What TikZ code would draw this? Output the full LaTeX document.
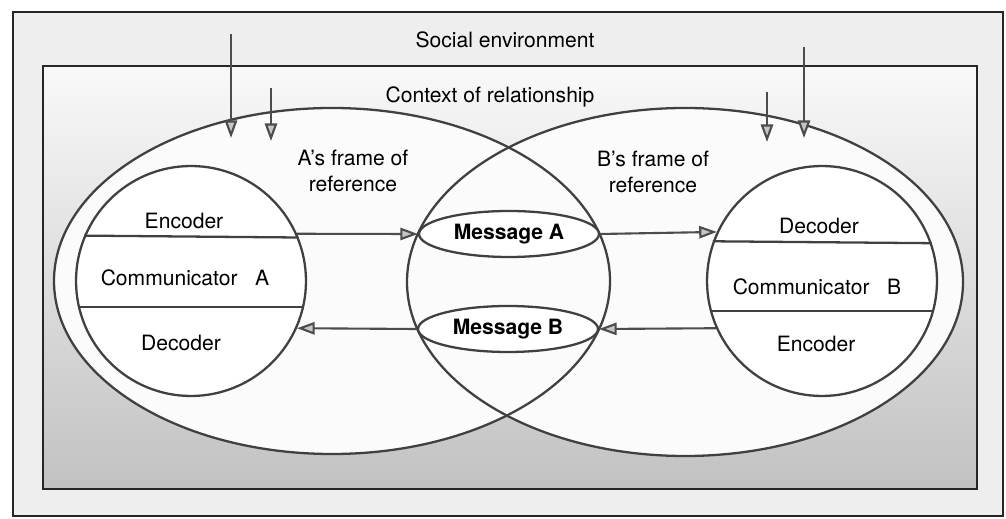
\documentclass[tikz,border=0pt]{standalone}
\usepackage{fontspec}
\setmainfont{TeX Gyre Heros}
\usetikzlibrary{shapes.geometric,arrows.meta}
\tikzset{
  box/.style={draw=black!85, line width=1.3pt},
  frameline/.style={draw=black!75, line width=1.3pt},
  person/.style={circle, draw=black!75, fill=white, line width=1.3pt, minimum size=4.6cm, inner sep=0pt},
  msg/.style={ellipse, draw=black!75, fill=white, line width=1.3pt, minimum width=3.6cm, minimum height=0.92cm, inner sep=0pt, font=\fontsize{12}{14.5}\selectfont\bfseries},
  txt/.style={font=\fontsize{12}{14.5}\selectfont, align=center, inner sep=0pt},
  flow/.style={draw=black!70, line width=1.2pt, -{Triangle[length=10pt, width=7pt, fill=gray!45]}},
}

\begin{document}
\begin{tikzpicture}[x=0.02cm, y=-0.02cm]
  \useasboundingbox (0,0) rectangle (1006,519);
  % social environment and context of relationship
  \draw[box, fill=gray!13] (13,12) rectangle (1003,516);
  \shade[top color=gray!5, middle color=gray!24, bottom color=gray!48] (43,66) rectangle (977,489);
  \draw[box] (43,66) rectangle (977,489);
  \node[txt] (soc) at (505,40) {Social environment};
  \node[txt] (ctx) at (490,97) {Context of relationship};

  % frames of reference
  \fill[gray!3] (332,281) ellipse [x radius=278, y radius=173]
                (685,282) ellipse [x radius=278, y radius=174];
  \draw[frameline] (332,281) ellipse [x radius=278, y radius=173];
  \draw[frameline] (685,282) ellipse [x radius=278, y radius=174];
  \node[txt] (fa) at (353,171) {A's frame of\\reference};
  \node[txt] (fb) at (653,172) {B's frame of\\reference};

  % communicators
  \node[person] (ca) at (191,281) {};
  \draw[frameline] (ca.157.5) -- (ca.22.5);
  \draw[frameline] (ca.193.1) -- (ca.-13.1);
  \node[txt] (enca) at (184,221) {Encoder};
  \node[txt] (coma) at (185,278) {Communicator\ \ \ A};
  \node[txt] (deca) at (181,343) {Decoder};

  \node[person] (cb) at (822,281) {};
  \draw[frameline] (cb.160.2) -- (cb.19.8);
  \draw[frameline] (cb.195.6) -- (cb.-15.6);
  \node[txt] (decb) at (819,226) {Decoder};
  \node[txt] (comb) at (817,287) {Communicator\ \ \ B};
  \node[txt] (encb) at (816,344) {Encoder};

  % messages
  \node[msg] (ma) at (509,234) {Message A};
  \node[msg] (mb) at (508,329) {Message B};
  \draw[flow] (ca.24.1) -- (ma.west);
  \draw[flow] (ma.east) -- (cb.155.9);
  \draw[flow] (cb.204.7) -- (mb.east);
  \draw[flow] (mb.west) -- (ca.-24.7);

  % outside influences
  \coordinate (s1) at (231,34);  \coordinate (e1) at (231,138);
  \coordinate (s2) at (271,88);  \coordinate (e2) at (271,141);
  \coordinate (s3) at (767,92);  \coordinate (e3) at (767,142);
  \coordinate (s4) at (804,47);  \coordinate (e4) at (804,138);
  \foreach \i in {1,...,4}
    \draw[flow] (s\i) -- (e\i);
\end{tikzpicture}
\end{document}
